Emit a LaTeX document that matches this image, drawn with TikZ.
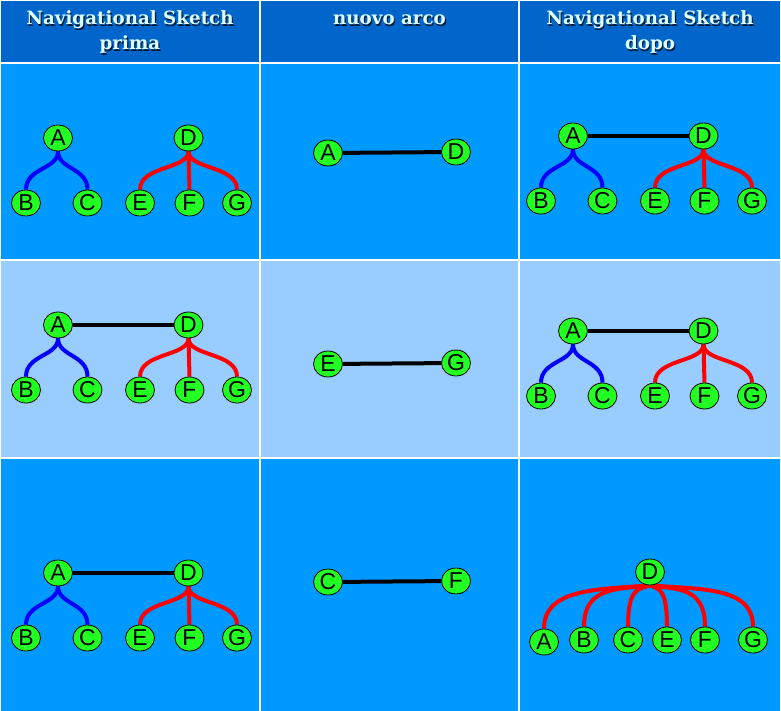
\documentclass[tikz,border=0pt]{standalone}
\usepackage{fontspec}
\setmainfont{Liberation Sans}
\newfontfamily\headfont{DejaVu Serif}
\usetikzlibrary{shapes.geometric}
\pgfdeclarelayer{back}
\pgfdeclarelayer{bg}
\pgfsetlayers{back,bg,main}
\definecolor{hdrblue}{HTML}{0066CC}
\definecolor{rowblue}{HTML}{0099FF}
\definecolor{rowlight}{HTML}{99CCFF}
\definecolor{nodegreen}{HTML}{22FF22}
\definecolor{hdrtext}{HTML}{DDFFFF}
\definecolor{hdrshadow}{HTML}{001A33}
\tikzset{
  gnode/.style={ellipse, draw=black, line width=0.8pt, fill=nodegreen,
    minimum width=29pt, minimum height=26pt, inner sep=0pt,
    font=\fontsize{23}{23}\selectfont},
  bedge/.style={draw=blue, line width=4pt},
  redge/.style={draw=red, line width=4pt},
  kedge/.style={draw=black, line width=4pt},
  htext/.style={anchor=base, text=hdrtext, inner sep=0pt,
    font=\headfont\bfseries\fontsize{18.3}{18.3}\selectfont},
  hshadow/.style={htext, text=hdrshadow},
  gridline/.style={draw=white, line width=2pt},
}
\newcommand{\TwoTrees}[3]{%
  \begin{scope}[shift={(#2,#3)}]
    \node[gnode] (#1A) at (0,0) {A};
    \node[gnode] (#1D) at (130.5,0) {D};
    \node[gnode] (#1B) at (-32,65) {B};
    \node[gnode] (#1C) at (29.5,65) {C};
    \node[gnode] (#1E) at (82,65) {E};
    \node[gnode] (#1F) at (131.5,65) {F};
    \node[gnode] (#1G) at (179,65) {G};
  \end{scope}
  \begin{pgfonlayer}{bg}
    \draw[bedge] (#1A.south) .. controls +(0,18) and +(0,-22) .. (#1B.north);
    \draw[bedge] (#1A.south) .. controls +(0,18) and +(0,-22) .. (#1C.north);
    \draw[redge] (#1D.south) .. controls +(0,18) and +(0,-24) .. (#1E.north);
    \draw[redge] (#1D.south) -- (#1F.north);
    \draw[redge] (#1D.south) .. controls +(0,18) and +(0,-24) .. (#1G.north);
  \end{pgfonlayer}}
\newcommand{\HeadText}[4]{%
  \node[hshadow] (#1s) at (#2+1.2,#3+1.2) {#4};
  \node[htext] (#1) at (#2,#3) {#4};}
\begin{document}
\begin{tikzpicture}[x=1pt,y=-1pt]
\useasboundingbox (0,0) rectangle (781,711);
% backgrounds
\begin{pgfonlayer}{back}
\fill[hdrblue] (0,0) rectangle (781,63);
\fill[rowblue] (0,63) rectangle (781,260);
\fill[rowlight] (0,260) rectangle (781,458);
\fill[rowblue] (0,458) rectangle (781,711);
\draw[gridline] (260,0) -- (260,711);
\draw[gridline] (519,0) -- (519,711);
\draw[gridline] (0,63) -- (781,63);
\draw[gridline] (0,260) -- (781,260);
\draw[gridline] (0,458) -- (781,458);
\draw[gridline] (0,711) -- (0,0) -- (781,0) -- (781,711);
\end{pgfonlayer}
% headers
\HeadText{h1a}{130}{25}{Navigational Sketch}
\HeadText{h1b}{130}{50}{prima}
\HeadText{h2a}{389.5}{25}{nuovo arco}
\HeadText{h3a}{650}{25}{Navigational Sketch}
\HeadText{h3b}{650}{50}{dopo}
% row 1
\TwoTrees{p}{58}{138}
\node[gnode] (m1A) at (328,153) {A};
\node[gnode] (m1D) at (456,152) {D};
\begin{pgfonlayer}{bg}\draw[kedge] (m1A) -- (m1D);\end{pgfonlayer}
\TwoTrees{q}{573}{136}
\begin{pgfonlayer}{bg}\draw[kedge] (qA) -- (qD);\end{pgfonlayer}
% row 2
\TwoTrees{r}{58}{325}
\begin{pgfonlayer}{bg}\draw[kedge] (rA) -- (rD);\end{pgfonlayer}
\node[gnode] (m2E) at (328,364) {E};
\node[gnode] (m2G) at (456,363) {G};
\begin{pgfonlayer}{bg}\draw[kedge] (m2E) -- (m2G);\end{pgfonlayer}
\TwoTrees{s}{573}{331}
\begin{pgfonlayer}{bg}\draw[kedge] (sA) -- (sD);\end{pgfonlayer}
% row 3
\TwoTrees{t}{58}{573}
\begin{pgfonlayer}{bg}\draw[kedge] (tA) -- (tD);\end{pgfonlayer}
\node[gnode] (m3C) at (328,582) {C};
\node[gnode] (m3F) at (456,581) {F};
\begin{pgfonlayer}{bg}\draw[kedge] (m3C) -- (m3F);\end{pgfonlayer}
\node[gnode] (uD) at (650,572) {D};
\node[gnode] (uA) at (544,642) {A};
\node[gnode] (uB) at (584,640) {B};
\node[gnode] (uC) at (628,640) {C};
\node[gnode] (uE) at (667,640) {E};
\node[gnode] (uF) at (705,640) {F};
\node[gnode] (uG) at (753,640) {G};
\begin{pgfonlayer}{bg}
\draw[redge] (uD.south) .. controls +(-53,4) and +(0,-40) .. (uA.north);
\draw[redge] (uD.south) .. controls +(-33,4) and +(0,-40) .. (uB.north);
\draw[redge] (uD.south) .. controls +(-11,4) and +(0,-40) .. (uC.north);
\draw[redge] (uD.south) .. controls +(8,4) and +(0,-40) .. (uE.north);
\draw[redge] (uD.south) .. controls +(27,4) and +(0,-40) .. (uF.north);
\draw[redge] (uD.south) .. controls +(51,4) and +(0,-40) .. (uG.north);
\end{pgfonlayer}
\end{tikzpicture}
\end{document}
